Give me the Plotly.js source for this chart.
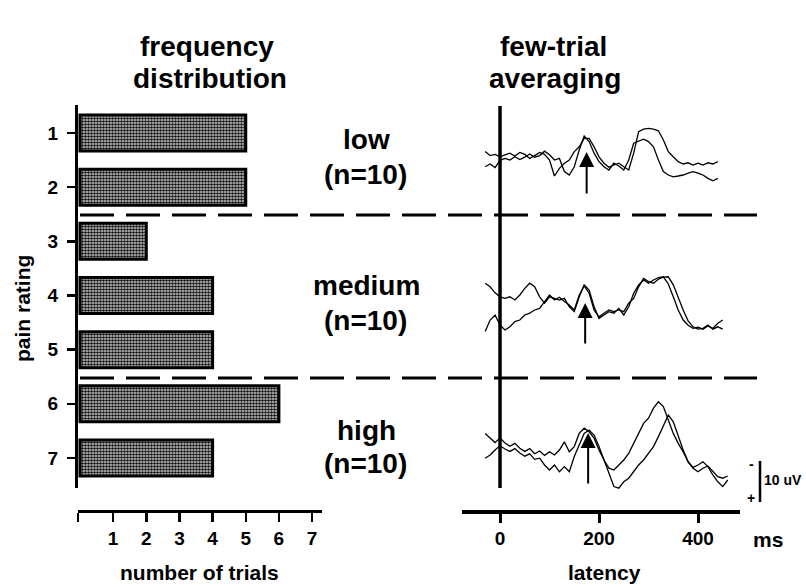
<!DOCTYPE html>
<html>
<head>
<meta charset="utf-8">
<script src="https://cdn.plot.ly/plotly-3.0.1.min.js"></script>
<style>html,body{margin:0;padding:0;background:#fff;}#chart{width:806px;height:587px;}</style>
</head>
<body>
<div id="chart"></div>
<script>
// ---- data ----
const painRatings = [1, 2, 3, 4, 5, 6, 7];
const trialCounts = [5, 5, 2, 4, 4, 6, 4];
const trialTicks = [1, 2, 3, 4, 5, 6, 7];
const latencyTicks = [0, 200, 400];
const groupNames = ['low', 'medium', 'high'];
const groupN = [10, 10, 10];

const latency = [-30,-20,-10,0,10,20,30,40,50,60,70,80,90,100,110,120,130,140,150,160,
  170,180,190,200,210,220,230,240,250,260,270,280,290,300,310,320,330,340,350,360,
  370,380,390,400,410,420,430,440,450,460];

// µV, negative plotted upward
const lowA = [-1.6,-0.6,-0.9,-0.3,-0.8,-1.2,-0.5,-1.4,-0.9,0.1,
  -0.6,-1.4,-0.9,0.5,4.5,2.6,1.3,0.5,-1.6,-2.8,
  -4.9,-4.9,-2.8,-0.3,1.3,2.3,1.75,1.3,2.2,3.0,
  -1.2,-6.6,-7.2,-7.4,-7.2,-6.8,-4.5,-1.6,-0.3,0.9,
  1.5,1.2,1.75,1.3,1.75,1.2,1.5,0.9,null,null];
const lowB = [2.2,1.5,2.4,0.6,0.1,0.5,-0.3,0.4,-0.2,-1.0,
  -0.2,-0.6,-1.7,-0.8,0.5,0.1,3.4,4.25,2.2,-2.0,
  -5.5,-4.1,-1.2,0.9,2.2,3.0,1.3,2.0,3.0,0.5,
  -3.7,-4.3,-4.7,-4.1,-2.8,0.5,3.4,4.25,4.7,4.5,
  4.25,3.8,3.4,3.8,4.25,5.1,5.7,5.1,null,null];
const medA = [-4.2,-3.3,-1.8,-0.8,-0.4,-0.8,0,-1.25,-2.9,-4.2,
  -3.3,-0.8,0.8,-0.8,-0.4,0,-0.4,1.7,2.9,-0.8,
  -3.75,-2.5,1.7,4.6,3.75,2.9,3.3,2.1,3.75,1.7,
  -1.7,-3.75,-5.0,-4.2,-5.0,-5.6,-5.8,-4.0,-0.8,2.5,
  5.0,6.3,7.1,6.8,7.3,6.5,7.1,5.8,5.0,null];
const medB = [7.9,5.0,3.75,6.25,7.5,6.7,5.4,5.0,3.75,3.3,
  2.5,2.1,0.4,-1.25,0,-0.7,0.4,1.25,2.5,-1.25,
  -3.5,-1.7,2.5,4.2,3.3,2.5,2.9,2.5,2.9,0.8,
  -0.4,-3.3,-5.4,-4.6,-4.2,-5.2,-5.7,-5.8,-3.8,-0.5,
  2.5,5.2,6.7,7.3,7.1,6.25,7.3,6.7,7.3,null];
const highA = [-2.9,-1.7,-0.6,-1.8,-0.5,0.3,-0.4,0.8,1.6,0.9,
  2.2,1.5,2.6,1.7,2.5,1.25,-0.8,1.7,0.4,-2.9,
  -4.2,-3.3,-1.7,1.25,3.75,5.8,6.25,5.0,3.75,2.1,
  -0.4,-2.9,-5.4,-6.7,-9.2,-10.8,-9.6,-6.25,-2.9,-0.4,
  1.7,4.2,5.8,6.7,5.8,5.25,6.7,7.9,8.3,7.75];
const highB = [3.3,2.5,1.25,0.2,1.0,1.6,0.9,2.0,2.8,2.2,
  3.6,3.3,5.0,6.25,5.0,6.7,5.4,6.7,2.9,0,
  -2.9,-3.75,-2.5,0.4,3.75,7.5,10.4,10.8,9.2,8.3,
  6.7,5.0,3.75,2.1,0.4,-2.1,-5.0,-7.5,-5.8,-2.1,
  1.25,4.2,5.6,5.0,4.2,5.4,7.5,9.2,10.4,8.75];
const arrowLatency = [175, 172, 178];

// ---- layout helpers (pixel -> paper) ----
const W = 806, H = 587;
const PX = v => v / W;
const PY = v => 1 - v / H;
const BOLD = 'Liberation Sans, Arial, Helvetica, sans-serif';

const traceLine = {color: '#000', width: 1.3};
const traces = [
  {type: 'bar', orientation: 'h', y: painRatings, x: trialCounts, xaxis: 'x', yaxis: 'y',
   width: 0.665,
   marker: {color: '#8a8a8a', line: {color: '#000', width: 3},
            pattern: {shape: '.', size: 3, solidity: 0.6, fgcolor: '#111', bgcolor: '#d8d8d8'}},
   hoverinfo: 'skip'},
  {type: 'scatter', mode: 'lines', x: latency, y: lowA, xaxis: 'x2', yaxis: 'y2', line: traceLine},
  {type: 'scatter', mode: 'lines', x: latency, y: lowB, xaxis: 'x2', yaxis: 'y2', line: traceLine},
  {type: 'scatter', mode: 'lines', x: latency, y: medA, xaxis: 'x2', yaxis: 'y3', line: traceLine},
  {type: 'scatter', mode: 'lines', x: latency, y: medB, xaxis: 'x2', yaxis: 'y3', line: traceLine},
  {type: 'scatter', mode: 'lines', x: latency, y: highA, xaxis: 'x2', yaxis: 'y4', line: traceLine},
  {type: 'scatter', mode: 'lines', x: latency, y: highB, xaxis: 'x2', yaxis: 'y4', line: traceLine}
];

const tickFont = {family: BOLD, size: 19, color: '#000', weight: 700};

const layout = {
  width: W, height: H,
  margin: {l: 0, r: 0, t: 0, b: 0},
  paper_bgcolor: '#fff', plot_bgcolor: 'rgba(0,0,0,0)',
  showlegend: false,
  xaxis: {domain: [PX(78), PX(322)], anchor: 'free', position: PY(511),
          range: [-0.06, 7.3], tickvals: [-0.06].concat(trialTicks),
          ticktext: [''].concat(trialTicks.map(String)),
          ticks: 'outside', ticklen: 9, tickwidth: 2.5, tickcolor: '#000',
          showline: true, linewidth: 3, linecolor: '#000',
          showgrid: false, zeroline: false, tickfont: tickFont, ticklabelstandoff: 0},
  yaxis: {domain: [PY(488), PY(105)], anchor: 'x', range: [7.554, 0.483],
          tickvals: painRatings, ticks: 'outside', ticklen: 8, tickwidth: 2.5, tickcolor: '#000',
          showline: true, linewidth: 3, linecolor: '#000',
          showgrid: false, zeroline: false, tickfont: tickFont, ticklabelstandoff: 5},
  xaxis2: {domain: [PX(462), PX(740)], anchor: 'free', position: PY(511),
           range: [-76.8, 484.8], tickvals: latencyTicks,
           ticks: 'outside', ticklen: 9, tickwidth: 3, tickcolor: '#000',
           showline: true, linewidth: 3.5, linecolor: '#000',
           showgrid: false, zeroline: false, tickfont: tickFont, ticklabelstandoff: 0},
  yaxis2: {domain: [PY(206), PY(110)], anchor: 'x2', range: [12, -12], visible: false},
  yaxis3: {domain: [PY(370), PY(250)], anchor: 'x2', range: [17.5, -12.5], visible: false},
  yaxis4: {domain: [PY(505), PY(380)], anchor: 'x2', range: [15, -16.25], visible: false},
  shapes: [
    {type: 'line', xref: 'paper', yref: 'paper', x0: PX(80), x1: PX(757), y0: PY(215), y1: PY(215),
     line: {color: '#000', width: 3, dash: '34px,12px'}},
    {type: 'line', xref: 'paper', yref: 'paper', x0: PX(80), x1: PX(757), y0: PY(378), y1: PY(378),
     line: {color: '#000', width: 3, dash: '34px,12px'}},
    {type: 'line', xref: 'x2', yref: 'paper', x0: 0, x1: 0, y0: PY(488), y1: PY(106),
     line: {color: '#000', width: 3.5}},
    {type: 'line', xref: 'paper', yref: 'paper', x0: PX(760), x1: PX(760), y0: PY(502), y1: PY(461),
     line: {color: '#000', width: 2.5}}
  ],
  annotations: []
};

const A = layout.annotations;
function txt(t, x, y, size, extra) {
  A.push(Object.assign({text: t, xref: 'paper', yref: 'paper', x: PX(x), y: PY(y),
    xanchor: 'center', yanchor: 'middle', showarrow: false,
    font: {family: BOLD, size: size, color: '#000', weight: 700}}, extra || {}));
}
txt('frequency', 207, 47, 28);
txt('distribution', 210, 78, 28);
txt('few-trial', 553, 47, 28);
txt('averaging', 555, 78, 28);
const gy = [140, 286, 430];
groupNames.forEach((g, i) => {
  txt(g, 366, gy[i], 28);
  txt('(n=' + groupN[i] + ')', 365, gy[i] + 34, 28);
});
txt('pain rating', 22, 309, 21, {textangle: -90});
txt('number of trials', 199, 572, 21);
txt('latency', 604, 572, 21);
txt('ms', 768, 539, 21);
txt('10 uV', 783, 480, 14);
txt('-', 751, 464, 14);
txt('+', 751, 498, 14);

// arrows marking the peak
const arrowTip = [152, 303, 433];
const arrowLen = [43, 42, 52];
arrowLatency.forEach((ms, i) => {
  A.push({text: '', xref: 'x2', yref: 'paper', x: ms, y: PY(arrowTip[i]),
    ax: 0, ay: arrowLen[i], showarrow: true, arrowhead: 2, arrowsize: 1.5,
    arrowwidth: 2, arrowcolor: '#000', standoff: 0, startstandoff: 0});
});

Plotly.newPlot('chart', traces, layout, {staticPlot: true, displayModeBar: false});
</script>
</body>
</html>
